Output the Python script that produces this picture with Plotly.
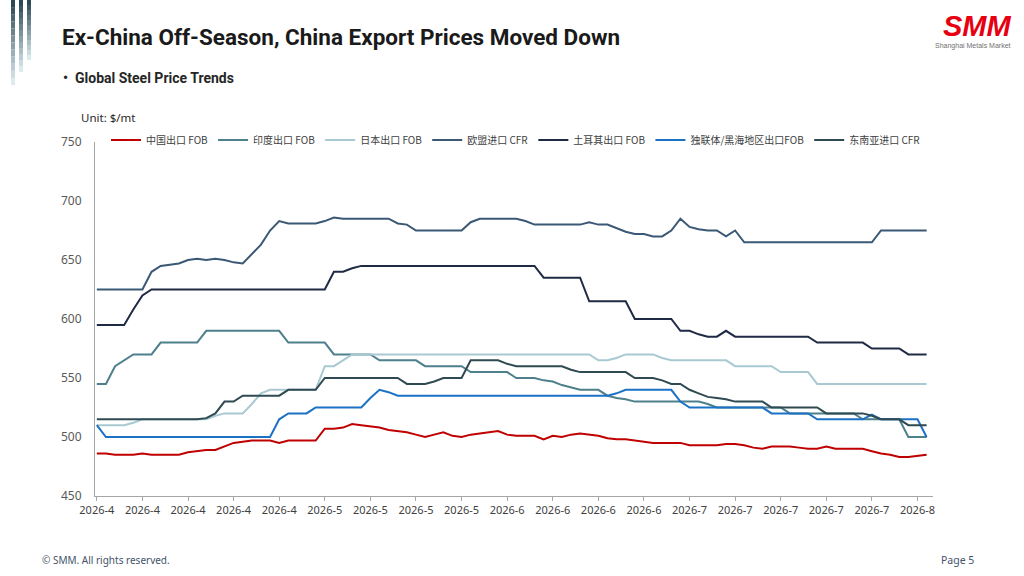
import pandas as pd
import plotly.graph_objects as go

# 日期（工作日），标签每5个点一个
dates = pd.bdate_range("2026-04-01", periods=92)
x_dates = [d.strftime("%Y-%m-%d") for d in dates]
tick_idx = list(range(0, 92, 5))
tick_vals = [x_dates[i] for i in tick_idx]
tick_text = [f"{dates[i].year}-{dates[i].month}" for i in tick_idx]

china_fob = [486, 486, 485, 485, 485, 486, 485, 485, 485, 485,
             487, 488, 489, 489, 492, 495, 496, 497, 497, 497,
             495, 497, 497, 497, 497, 507, 507, 508, 511, 510,
             509, 508, 506, 505, 504, 502, 500, 502, 504, 501,
             500, 502, 503, 504, 505, 502, 501, 501, 501, 498,
             501, 500, 502, 503, 502, 501, 499, 498, 498, 497,
             496, 495, 495, 495, 495, 493, 493, 493, 493, 494,
             494, 493, 491, 490, 492, 492, 492, 491, 490, 490,
             492, 490, 490, 490, 490, 488, 486, 485, 483, 483,
             484, 485]

india_fob = [545, 545, 560, 565, 570, 570, 570, 580, 580, 580,
             580, 580, 590, 590, 590, 590, 590, 590, 590, 590,
             590, 580, 580, 580, 580, 580, 570, 570, 570, 570,
             570, 565, 565, 565, 565, 565, 560, 560, 560, 560,
             560, 555, 555, 555, 555, 555, 550, 550, 550, 548,
             547, 544, 542, 540, 540, 540, 535, 533, 532, 530,
             530, 530, 530, 530, 530, 530, 530, 528, 525, 525,
             525, 525, 525, 525, 525, 525, 520, 520, 520, 520,
             520, 520, 520, 520, 515, 515, 515, 515, 515, 500,
             500, 500]

japan_fob = [510, 510, 510, 510, 512, 515, 515, 515, 515, 515,
             515, 515, 515, 518, 520, 520, 520, 528, 537, 540,
             540, 540, 540, 540, 540, 560, 560, 565, 570, 570,
             570, 570, 570, 570, 570, 570, 570, 570, 570, 570,
             570, 570, 570, 570, 570, 570, 570, 570, 570, 570,
             570, 570, 570, 570, 570, 565, 565, 567, 570, 570,
             570, 570, 567, 565, 565, 565, 565, 565, 565, 565,
             560, 560, 560, 560, 560, 555, 555, 555, 555, 545,
             545, 545, 545, 545, 545, 545, 545, 545, 545, 545,
             545, 545]

eu_cfr = [625, 625, 625, 625, 625, 625, 640, 645, 646, 647,
          650, 651, 650, 651, 650, 648, 647, 655, 663, 675,
          683, 681, 681, 681, 681, 683, 686, 685, 685, 685,
          685, 685, 685, 681, 680, 675, 675, 675, 675, 675,
          675, 682, 685, 685, 685, 685, 685, 683, 680, 680,
          680, 680, 680, 680, 682, 680, 680, 677, 674, 672,
          672, 670, 670, 675, 685, 678, 676, 675, 675, 670,
          675, 665, 665, 665, 665, 665, 665, 665, 665, 665,
          665, 665, 665, 665, 665, 665, 675, 675, 675, 675,
          675, 675]

turkey_fob = [595, 595, 595, 595, 608, 620, 625, 625, 625, 625,
              625, 625, 625, 625, 625, 625, 625, 625, 625, 625,
              625, 625, 625, 625, 625, 625, 640, 640, 643, 645,
              645, 645, 645, 645, 645, 645, 645, 645, 645, 645,
              645, 645, 645, 645, 645, 645, 645, 645, 645, 635,
              635, 635, 635, 635, 615, 615, 615, 615, 615, 600,
              600, 600, 600, 600, 590, 590, 587, 585, 585, 590,
              585, 585, 585, 585, 585, 585, 585, 585, 585, 580,
              580, 580, 580, 580, 580, 575, 575, 575, 575, 570,
              570, 570]

cis_fob = [510, 500, 500, 500, 500, 500, 500, 500, 500, 500,
           500, 500, 500, 500, 500, 500, 500, 500, 500, 500,
           515, 520, 520, 520, 525, 525, 525, 525, 525, 525,
           533, 540, 538, 535, 535, 535, 535, 535, 535, 535,
           535, 535, 535, 535, 535, 535, 535, 535, 535, 535,
           535, 535, 535, 535, 535, 535, 535, 537, 540, 540,
           540, 540, 540, 540, 530, 525, 525, 525, 525, 525,
           525, 525, 525, 525, 520, 520, 520, 520, 520, 515,
           515, 515, 515, 515, 515, 519, 515, 515, 515, 515,
           515, 500]

sea_cfr = [515, 515, 515, 515, 515, 515, 515, 515, 515, 515,
           515, 515, 516, 520, 530, 530, 535, 535, 535, 535,
           535, 540, 540, 540, 540, 550, 550, 550, 550, 550,
           550, 550, 550, 550, 545, 545, 545, 547, 550, 550,
           550, 565, 565, 565, 565, 562, 560, 560, 560, 560,
           560, 560, 557, 555, 555, 555, 555, 555, 555, 550,
           550, 550, 548, 545, 545, 540, 537, 534, 533, 532,
           530, 530, 530, 530, 525, 525, 525, 525, 525, 525,
           520, 520, 520, 520, 520, 518, 515, 515, 515, 510,
           510, 510]

series_names = ["中国出口 FOB", "印度出口 FOB", "日本出口 FOB", "欧盟进口 CFR",
                "土耳其出口 FOB", "独联体/黑海地区出口FOB", "东南亚进口 CFR"]
series_values = [china_fob, india_fob, japan_fob, eu_cfr, turkey_fob, cis_fob, sea_cfr]
colors = ["#C00000", "#4E7F8C", "#A9C9D2", "#3B5875", "#1F2A44", "#1B72C4", "#2F4A52"]

# 绘图区像素位置
L, R, T, B = 95, 933, 142, 496
W, H = R - L, B - T


def fx(px):
    return (px - L) / W


def fy(py):
    return (B - py) / H


fig = go.Figure()
for name, vals, c in zip(series_names, series_values, colors):
    fig.add_trace(go.Scatter(x=x_dates, y=vals, name=name, mode="lines",
                             line=dict(color=c, width=2)))

fig.update_layout(
    width=1024, height=576,
    margin=dict(l=L, r=1024 - R, t=T, b=576 - B),
    paper_bgcolor="white", plot_bgcolor="white",
    font=dict(family="Noto Sans, Noto Sans CJK SC", color="#404040"),
    showlegend=True,
    legend=dict(orientation="h", x=fx(106), y=fy(140), xanchor="left", yanchor="middle",
                font=dict(family="Noto Sans CJK SC", size=10, color="#404040"),
                bgcolor="rgba(0,0,0,0)", itemwidth=30),
    hovermode=False,
)

fig.update_xaxes(type="category", range=[-0.2, 91.7],
                 tickmode="array", tickvals=tick_vals, ticktext=tick_text,
                 showline=True, linecolor="#A6A6A6", linewidth=1,
                 ticks="outside", ticklen=4, tickcolor="#A6A6A6",
                 showgrid=False, zeroline=False,
                 tickfont=dict(size=11, color="#404040"))
fig.update_yaxes(range=[450, 750], dtick=50,
                 showline=True, linecolor="#A6A6A6", linewidth=1,
                 showgrid=False, zeroline=False, ticks="",
                 ticklabelstandoff=10,
                 tickfont=dict(size=12, color="#595959"))

# 文字
texts = [
    dict(text="<b>Ex-China Off-Season, China Export Prices Moved Down</b>", x=60, y=37,
         size=22.5, color="#1A1A1A", family="Roboto"),
    dict(text="<b>•  Global Steel Price Trends</b>", x=61, y=78,
         size=14, color="#262626", family="Roboto"),
    dict(text="Unit: $/mt", x=79, y=118, size=11.5, color="#262626", family="Noto Sans"),
    dict(text="© SMM. All rights reserved.", x=40, y=560, size=10, color="#44546A",
         family="Noto Sans"),
]
for t in texts:
    fig.add_annotation(text=t["text"], x=fx(t["x"]), y=fy(t["y"]), xref="paper", yref="paper",
                       xanchor="left", yanchor="middle", showarrow=False,
                       font=dict(size=t["size"], color=t["color"], family=t["family"]))

fig.add_annotation(text="Page 5", x=fx(976), y=fy(560), xref="paper", yref="paper",
                   xanchor="right", yanchor="middle", showarrow=False,
                   font=dict(size=10.5, color="#44546A", family="Noto Sans"))

# SMM 标志
fig.add_annotation(text="SMM", x=fx(977), y=fy(26), xref="paper", yref="paper",
                   xanchor="center", yanchor="middle", showarrow=False,
                   font=dict(size=29, color="#E60012", family="Liberation Sans",
                             weight=900, style="italic"))
fig.add_annotation(text="Shanghai Metals Market", x=fx(973), y=fy(46), xref="paper", yref="paper",
                   xanchor="center", yanchor="middle", showarrow=False,
                   font=dict(size=7, color="#707070", family="Liberation Sans"))

# 左上角装饰条（渐变）
bars = [(11, 15, 85), (19, 23, 72), (27, 31, 60)]
top_rgb = (43, 74, 85)
bot_rgb = (220, 235, 238)
n_seg = 12
for x0, x1, yb in bars:
    for k in range(n_seg):
        f = k / (n_seg - 1)
        c = tuple(int(top_rgb[j] + (bot_rgb[j] - top_rgb[j]) * f) for j in range(3))
        y0 = yb * k / n_seg
        y1 = yb * (k + 1) / n_seg
        fig.add_shape(type="rect", xref="paper", yref="paper",
                      x0=fx(x0), x1=fx(x1), y0=fy(y1), y1=fy(y0),
                      line=dict(width=0), fillcolor="rgb(%d,%d,%d)" % c, layer="above")

# 去掉页面默认边距，使图与窗口左上角对齐
fig.write_html("out.html", config={"displayModeBar": False},
               post_script="document.body.style.margin='0';")
